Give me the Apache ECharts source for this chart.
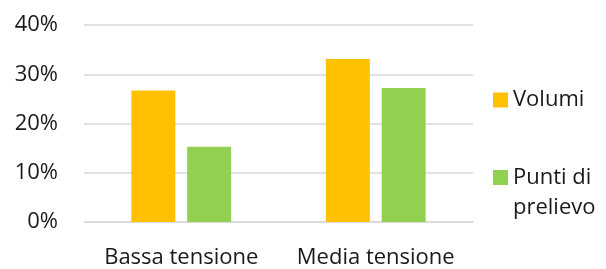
<!DOCTYPE html>
<html>
<head>
<meta charset="utf-8">
<script src="https://cdn.jsdelivr.net/npm/echarts@6/dist/echarts.min.js"></script>
<style>
  html, body { margin: 0; padding: 0; background: #fff; }
  #main { width: 606px; height: 269px; }
</style>
</head>
<body>
<div id="main"></div>
<script>
// dati (percentuali)
const categories = ['Bassa tensione', 'Media tensione'];
const volumi = [26.7, 33.1];
const puntiPrelievo = [15.3, 27.2];
const seriesNames = ['Volumi', 'Punti di prelievo'];
const colors = ['#FFC000', '#92D050'];

const chart = echarts.init(document.getElementById('main'));
const font = '"Open Sans", sans-serif';

const option = {
  animation: false,
  textStyle: { fontFamily: font },
  grid: { left: 84, right: 133, top: 25, bottom: 46.5 },
  legend: {
    orient: 'vertical',
    left: 493,
    top: 85,
    padding: 0,
    itemWidth: 15,
    itemHeight: 15,
    itemGap: 17.5,
    icon: 'rect',
    textStyle: { fontSize: 22, color: '#1a1a1a', fontFamily: font, lineHeight: 30 },
    // riga vuota in testa: così l'icona resta allineata alla prima riga del testo
    formatter: name => name === seriesNames[1] ? '\nPunti di\nprelievo' : name,
    data: seriesNames
  },
  xAxis: {
    type: 'category',
    data: categories,
    axisTick: { show: false },
    axisLine: { lineStyle: { color: '#d9d9d9', width: 1.5 } },
    axisLabel: { interval: 0, hideOverlap: false, fontSize: 22, color: '#1a1a1a', margin: 25, fontFamily: font }
  },
  yAxis: {
    type: 'value',
    min: 0,
    max: 40,
    interval: 10,
    axisLabel: { formatter: '{value}%', fontSize: 22, color: '#1a1a1a', margin: 26, fontFamily: font },
    splitLine: { lineStyle: { color: '#d9d9d9', width: 1.5 } }
  },
  series: [
    {
      name: seriesNames[0],
      type: 'bar',
      data: volumi,
      barWidth: '22.6%',
      barGap: '27%',
      itemStyle: { color: colors[0] }
    },
    {
      name: seriesNames[1],
      type: 'bar',
      data: puntiPrelievo,
      barWidth: '22.6%',
      barGap: '27%',
      itemStyle: { color: colors[1] }
    }
  ]
};
chart.setOption(option);
</script>
</body>
</html>
